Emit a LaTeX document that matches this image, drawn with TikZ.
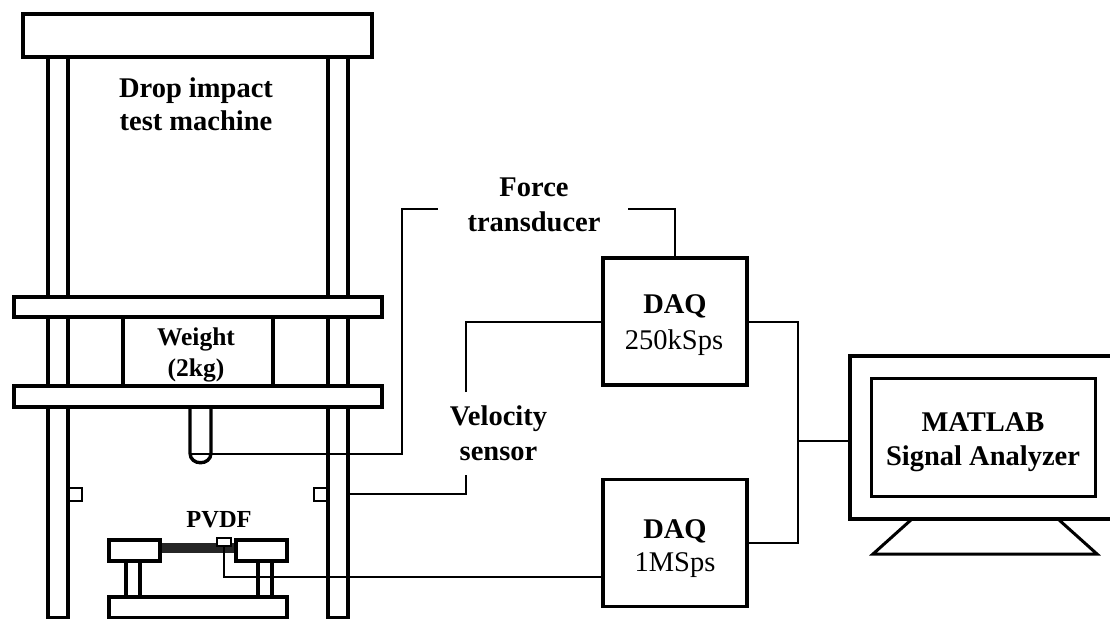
\documentclass[tikz,border=0pt]{standalone}
\usepackage{fontspec}
\setmainfont{Liberation Serif}
\tikzset{
  x=1bp,y=-1bp,
  thick box/.style={draw=black,line width=3.4bp,fill=white,line join=miter},
  thin box/.style={thick box,line width=2.4bp},
  wire/.style={draw=black,line width=2bp,line join=miter},
  bus/.style={wire,line width=2.5bp},
  lab/.style={font=\fontsize{28.5bp}{34bp}\selectfont\bfseries,align=center,inner sep=0pt},
  reg/.style={font=\fontsize{28.5bp}{34bp}\selectfont,inner sep=0pt},
  labsm/.style={font=\fontsize{25.5bp}{31bp}\selectfont\bfseries,align=center,inner sep=0pt},
  daq/.style={thick box,minimum width=144bp,minimum height=127bp,inner sep=0pt,outer sep=0pt}
}
\begin{document}
\begin{tikzpicture}
\useasboundingbox (0,0) rectangle (1110,619);
\coordinate (ftl) at (438,209.5);
\coordinate (ftr) at (628,209.5);
\coordinate (vsb) at (465.5,475);
\coordinate (vst) at (465.5,392);
% frame
\draw[thick box] (48,57) rectangle (68,618);
\draw[thick box] (328,57) rectangle (348,618);
\draw[thick box] (23,14) rectangle (372,57);
\draw[thick box] (123,317) rectangle (273,386);
\draw[thick box] (14,297) rectangle (382,317);
\draw[thick box] (190,407) -- (190,453) .. controls (190,466) and (211,466) .. (211,453) -- (211,407);
\draw[thick box] (14,386) rectangle (382,407);
\draw[thin box] (69,488) rectangle (82,501);
\draw[thin box] (314,488) rectangle (327,501);
% fixture
\draw[thick box] (126,561) rectangle (140,597);
\draw[thick box] (258,561) rectangle (272,597);
\draw[thick box] (109,597) rectangle (287,618);
\fill[black!85] (160,543) rectangle (236,553);
\draw[thick box] (109,540) rectangle (160,561);
\draw[thick box] (236,540) rectangle (287,561);
\draw[thin box] (217,538) rectangle (231,546);
% DAQ
\node[daq] (daqa) at (675,321.5) {};
\node[daq] (daqb) at (675,543) {};
\node[lab,anchor=base] (da) at (675,314) {DAQ};
\node[reg,anchor=base] (ra) at (674,349) {250kSps};
\node[lab,anchor=base] (db) at (675,538) {DAQ};
\node[reg,anchor=base] (rb) at (675,571) {1MSps};
% monitor
\draw[thick box,line width=3bp] (912,519) -- (873,554) -- (1097,554) -- (1058,519);
\draw[thick box] (850,356) -- (1112,356) -- (1112,519) -- (850,519) -- cycle;
\node[thick box,minimum width=224bp,minimum height=118bp,inner sep=0pt,outer sep=0pt] (scr) at (983.5,437.5) {};
\node[lab,anchor=base] (m1) at (983,431) {MATLAB};
\node[lab,anchor=base] (m2) at (983,465) {Signal Analyzer};
% connectors
\coordinate (bus) at (798,441);
\coordinate (rodout) at (190,453.5);
\coordinate (colout) at (348,494);
\coordinate (sens) at (224,546);
\draw[wire] (rodout) -- (402,453.5) -- (402,209.5) -- (ftl);
\draw[wire] (colout) -- (465.5,494) -- (vsb);
\draw[wire] (vst) -- (465.5,322) -- (daqa.west|-0,322);
\draw[wire] (ftr) -- (675,209.5) -- (daqa.north);
\draw[wire] (sens) -- (224,577) -- (daqb.west|-0,577);
\draw[bus] (daqa.east|-0,322) -- (798,322) -- (798,543) -- (daqb.east|-0,543);
\draw[bus] (bus) -- (850,441);
% labels
\node[lab,font=\fontsize{28.5bp}{33bp}\selectfont\bfseries] (t1) at (196,104) {Drop impact\\test machine};
\node[lab,font=\fontsize{28.5bp}{35bp}\selectfont\bfseries] (t2) at (534,205) {Force\\transducer};
\node[lab,font=\fontsize{28.5bp}{35bp}\selectfont\bfseries] (t3) at (498.5,433) {Velocity\\sensor};
\node[labsm] (t4) at (196,355) {Weight\\(2kg)};
\node[labsm,font=\fontsize{24.5bp}{28bp}\selectfont\bfseries,anchor=base] (t5) at (219,527) {PVDF};
\end{tikzpicture}
\end{document}
